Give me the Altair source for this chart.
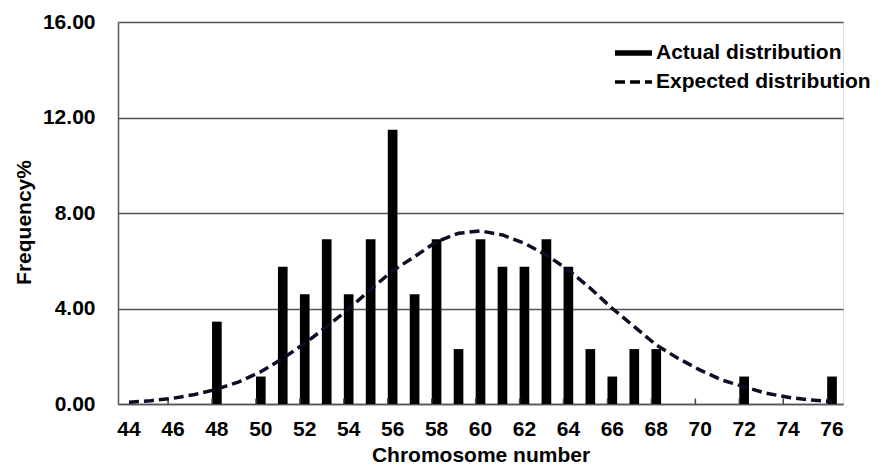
import altair as alt
import pandas as pd

# ---- data ----
all_chrom = list(range(44, 77))
bar_chrom = [48, 50, 51, 52, 53, 54, 55, 56, 57, 58, 59, 60, 61, 62, 63, 64, 65, 66, 67, 68, 72, 76]
bar_freq = [3.45, 1.15, 5.75, 4.60, 6.90, 4.60, 6.90, 11.49, 4.60, 6.90, 2.30, 6.90,
            5.75, 5.75, 6.90, 5.75, 2.30, 1.15, 2.30, 2.30, 1.15, 1.15]
curve_chrom = all_chrom
curve_freq = [0.07, 0.14, 0.24, 0.40, 0.62, 0.93, 1.35, 1.91, 2.54, 3.24, 3.98, 4.80,
              5.58, 6.17, 6.80, 7.15, 7.25, 7.08, 6.73, 6.24, 5.61, 4.85, 4.00, 3.24,
              2.47, 1.91, 1.42, 1.00, 0.72, 0.45, 0.28, 0.17, 0.10]
x_labels = list(range(44, 77, 2))
tick_at = list(range(46, 77, 2))      # inner ticks sit on the left edge of these categories
y_ticks = [0, 4, 8, 12, 16]
series_names = ["Actual distribution", "Expected distribution"]

bar_df = pd.DataFrame({"chrom": bar_chrom, "freq": bar_freq})
curve_df = pd.DataFrame({"chrom": curve_chrom, "freq": curve_freq,
                         "series": ["Expected distribution"] * len(curve_chrom)})
tick_df = pd.DataFrame({"chrom": tick_at})

FONT = "Liberation Sans"
FS = 21
W, H = 725, 382

x_scale = alt.Scale(domain=all_chrom, paddingInner=0.56, paddingOuter=0.28)
y_scale = alt.Scale(domain=[0, 16])

y_axis = alt.Axis(values=y_ticks, format=".2f", ticks=False,
                  labelFont=FONT, labelFontSize=FS, labelFontWeight="bold",
                  labelColor="black", labelPadding=23,
                  title="Frequency%", titleFont=FONT, titleFontSize=FS,
                  titleFontWeight="bold", titleColor="black", titlePadding=8,
                  titleY=200,
                  domainColor="#555555", domainWidth=1.5,
                  grid=True, gridColor="#555555", gridWidth=1.5)

x_axis = alt.Axis(values=x_labels, labelAngle=0, ticks=False,
                  labelFont=FONT, labelFontSize=FS, labelFontWeight="bold",
                  labelColor="black", labelPadding=14,
                  title="Chromosome number", titleFont=FONT, titleFontSize=FS,
                  titleFontWeight="bold", titleColor="black", titlePadding=5,
                  domainColor="#555555", domainWidth=1.5, grid=False)

legend_kw = dict(title=None, orient="none", legendX=494, legendY=21,
                 symbolType="stroke", symbolSize=1369, clipHeight=20,
                 symbolStrokeColor="black",
                 labelFont=FONT, labelFontSize=FS,
                 labelFontWeight="bold", labelColor="black",
                 labelOffset=1, rowPadding=8, labelLimit=400)

bars = alt.Chart(bar_df).mark_bar(color="black").encode(
    x=alt.X("chrom:O", scale=x_scale, axis=x_axis),
    y=alt.Y("freq:Q", scale=y_scale, axis=y_axis),
)

ticks = alt.Chart(tick_df).mark_rule(color="#444444", strokeWidth=1.5).encode(
    x=alt.X("chrom:O", scale=x_scale, axis=x_axis, bandPosition=0),
    y=alt.datum(0, scale=y_scale, axis=y_axis),
    y2=alt.datum(0.23),
)

curve = alt.Chart(curve_df).mark_line(color="#0d0d26").encode(
    x=alt.X("chrom:O", scale=x_scale, axis=x_axis),
    y=alt.Y("freq:Q", scale=y_scale, axis=y_axis),
    strokeDash=alt.StrokeDash("series:N",
                              scale=alt.Scale(domain=series_names, range=[[1, 0], [10, 5]]),
                              legend=alt.Legend(**legend_kw)),
    strokeWidth=alt.StrokeWidth("series:N",
                                scale=alt.Scale(domain=series_names, range=[5.5, 3.5]),
                                legend=alt.Legend(**legend_kw)),
)

chart = alt.layer(bars, ticks, curve).properties(
    width=W, height=H,
    autosize=alt.AutoSizeParams(type="none"),
    padding={"left": 110, "top": 14, "right": 38, "bottom": 61},
).configure_view(strokeWidth=0).configure(background="white")

chart.save("out.html", embed_options={"renderer": "svg", "actions": False})
